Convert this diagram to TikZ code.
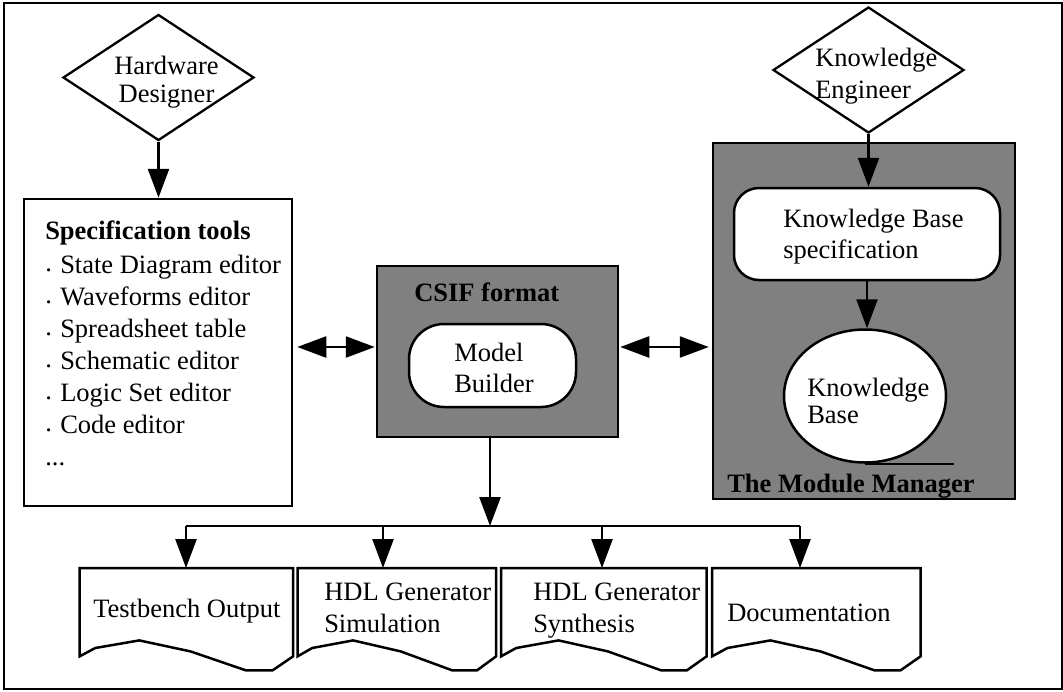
\documentclass[tikz,border=0pt]{standalone}
\usepackage{fontspec}
\setmainfont{Liberation Serif}
\usetikzlibrary{arrows.meta,shapes.geometric,calc}

\definecolor{boxgray}{RGB}{128,128,128}

% stacked lines with a given baseline distance; the first line carries the baseline
\newcommand\txtlines[3][l]{{\fontsize{26.5}{#2}\selectfont\begin{tabular}[t]{@{}#1@{}}#3\end{tabular}}}
% small list dot in front of an entry
\newcommand\itemdot{\makebox[15pt][l]{\raisebox{2pt}{.}}}
% document symbol over a placeholder node
\newcommand\drawdoc[1]{%
  \draw[doc] (#1.north west) -- (#1.north east)
    -- ($(#1.north east)+(0,88.4)$)
    -- ($(#1.north west)!0.904!(#1.north east)+(0,102.4)$)
    -- ($(#1.north west)!0.78!(#1.north east)+(0,102.4)$)
    -- ($(#1.north west)!0.52!(#1.north east)+(0,83.4)$)
    -- ($(#1.north west)!0.28!(#1.north east)+(0,72.4)$)
    -- ($(#1.north west)!0.074!(#1.north east)+(0,80)$)
    -- ($(#1.north west)+(0,88.4)$) -- cycle;}

\begin{document}
\begin{tikzpicture}[x=1pt,y=-1pt,
  line width=2.5pt,
  box/.style={draw, line width=2.5pt, inner sep=0pt},
  graybox/.style={box, fill=boxgray},
  actor/.style={diamond, draw, line width=2.3pt, minimum width=191pt, minimum height=126pt, inner sep=0pt},
  arr/.style={-{Triangle[length=29pt,width=21pt]}},
  dbl/.style={{Triangle[length=29pt,width=21pt]}-{Triangle[length=29pt,width=21pt]}},
  txt/.style={inner sep=0pt, anchor=base west, font=\fontsize{26.5}{30}\selectfont},
  txtb/.style={txt, font=\fontsize{26.5}{30}\selectfont\bfseries},
  docarea/.style={inner sep=0pt, anchor=north west, minimum height=103pt},
  doc/.style={draw, fill=white, line width=2.5pt},
]
\useasboundingbox (0,0) rectangle (1063,691);
\draw[line width=2pt] (4,3) rectangle (1062,689);

% actors
\node[actor] (hd) at (158.5,77.5) {};
\node[txt, anchor=base] (hdt) at (166.5,74) {\txtlines[c]{28.5}{Hardware\\Designer}};
\node[actor] (ke) at (868.5,70) {};
\node[txt] (ket) at (814,66) {\txtlines{32.5}{Knowledge\\Engineer}};

% specification tools
\node[box, minimum width=268pt, minimum height=307pt] (spec) at (158,352.5) {};
\node[txt] (spect) at (44,239) {\txtlines{32}{\textbf{Specification tools}\\[2pt]
  \itemdot State Diagram editor\\
  \itemdot Waveforms editor\\
  \itemdot Spreadsheet table\\
  \itemdot Schematic editor\\
  \itemdot Logic Set editor\\
  \itemdot Code editor\\
  ...}};

% CSIF format
\node[graybox, minimum width=241pt, minimum height=171pt] (csif) at (497.5,351.5) {};
\node[txtb] (csift) at (413,301.5) {CSIF format};
\node[box, fill=white, rounded corners=35pt, minimum width=167pt, minimum height=83pt] (mb) at (492.5,365.5) {};
\node[txt] (mbt) at (453,361.5) {\txtlines{31}{Model\\Builder}};

% module manager
\node[graybox, minimum width=302pt, minimum height=356pt] (mm) at (864,321) {};
\node[box, fill=white, rounded corners=25pt, minimum width=266pt, minimum height=92pt] (kbs) at (867,234) {};
\node[txt] (kbst) at (782,227.5) {\txtlines{31}{Knowledge Base\\specification}};
\node[ellipse, draw, fill=white, line width=2.5pt, minimum width=162pt, minimum height=133pt, inner sep=0pt] (kb) at (865,396) {};
\node[txt] (kbt) at (806,396.5) {\txtlines{27}{Knowledge\\Base}};
\draw (kb.south) -- ++(89,0);
\node[txtb] (mmt) at (726,492) {The Module Manager};

% connectors
\draw[arr] (hd.south) -- (hd.south |- spec.north);
\draw[arr] (ke.south) -- (ke.south |- kbs.north);
\draw[arr] (kbs.south) -- (kbs.south |- kb.north);
\draw[dbl] ([xshift=4pt,yshift=5.5pt]spec.east) -- ([xshift=-1pt,yshift=4.5pt]csif.west);
\draw[dbl] ([xshift=1pt,yshift=4.5pt]csif.east) -- ([xshift=-3pt,yshift=-26pt]mm.west);

% output documents
\node[docarea, minimum width=211pt] (d1) at (79.5,568) {};
\node[docarea, minimum width=196pt] (d2) at (297.5,568) {};
\node[docarea, minimum width=203pt] (d3) at (501,568) {};
\node[docarea, minimum width=206pt] (d4) at (712,568) {};
\drawdoc{d1}
\drawdoc{d2}
\drawdoc{d3}
\drawdoc{d4}
\node[txt] (d1t) at (92,617) {Testbench Output};
\node[txt] (d2t) at (323,600.5) {\txtlines{32}{HDL Generator\\Simulation}};
\node[txt] (d3t) at (532,600.5) {\txtlines{32}{HDL Generator\\Synthesis}};
\node[txt] (d4t) at (726,621.7) {Documentation};

% distribution bus
\coordinate (bm) at (490,526);
\coordinate (b1) at (186,526);
\coordinate (b2) at (383,526);
\coordinate (b3) at (602,526);
\coordinate (b4) at (800,526);
\draw[arr] (bm |- csif.south) -- (bm);
\draw (b1) -- (b4);
\draw[arr] (b1) -- (b1 |- d1.north);
\draw[arr] (b2) -- (b2 |- d2.north);
\draw[arr] (b3) -- (b3 |- d3.north);
\draw[arr] (b4) -- (b4 |- d4.north);
\end{tikzpicture}
\end{document}
